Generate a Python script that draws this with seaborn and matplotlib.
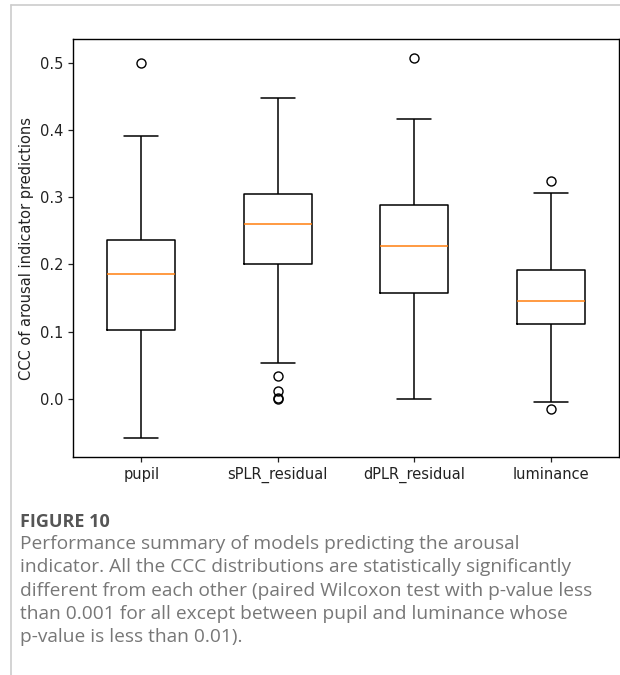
import numpy as np
import pandas as pd
import matplotlib
matplotlib.use("Agg")
import matplotlib.pyplot as plt
import seaborn as sns

# ---- data ----
categories = ["pupil", "sPLR_residual", "dPLR_residual", "luminance"]
whisker_low = [-0.058, 0.053, 0.000, -0.004]
q1 = [0.103, 0.201, 0.158, 0.111]
medians = [0.186, 0.260, 0.228, 0.145]
q3 = [0.236, 0.305, 0.289, 0.192]
whisker_high = [0.391, 0.448, 0.417, 0.306]
outliers_low = [[], [0.034, 0.012, 0.001, 0.0], [], [-0.015]]
outliers_high = [[0.500], [], [0.507], [0.324]]
y_ticks = [0.0, 0.1, 0.2, 0.3, 0.4, 0.5]
y_label = "CCC of arousal indicator predictions"
fig_title = "FIGURE 10"
caption = ("Performance summary of models predicting the arousal\n"
           "indicator. All the CCC distributions are statistically significantly\n"
           "different from each other (paired Wilcoxon test with p-value less\n"
           "than 0.001 for all except between pupil and luminance whose\n"
           "p-value is less than 0.01).")


def sample_for(i):
    """Sorted values whose box-plot statistics equal the ones read above."""
    lows = sorted(outliers_low[i]) + [whisker_low[i]]
    highs = [whisker_high[i]] + sorted(outliers_high[i])
    m = max(len(lows), len(highs))
    vals = list(lows)
    vals += [q1[i]] * (m - len(lows) + 1)
    vals += [medians[i]] * m
    vals += [q3[i]] * (m + (m - len(highs)))
    vals += highs
    return vals


rows = []
for i, c in enumerate(categories):
    for v in sample_for(i):
        rows.append({"model": c, "ccc": v})
df = pd.DataFrame(rows)

sns.set_theme(style="ticks")
plt.rcParams["font.family"] = ["DejaVu Sans"]
plt.rcParams["axes.edgecolor"] = "black"
plt.rcParams["axes.linewidth"] = 1.0

fig = plt.figure(figsize=(6.2, 6.75), dpi=100)
ax = fig.add_axes([73 / 620, (675 - 457) / 675, 546 / 620, 418 / 675])

sns.boxplot(data=df, x="model", y="ccc", order=categories, ax=ax,
            width=0.5, fill=False, color="black", linecolor="black",
            linewidth=1.1, whis=1.5,
            medianprops={"color": "#ff7f0e", "linewidth": 1.1},
            flierprops={"marker": "o", "markerfacecolor": "none",
                        "markeredgecolor": "black", "markersize": 6.5,
                        "markeredgewidth": 1.0})

ax.set_xlim(-0.5, 3.5)
ax.set_yticks(y_ticks)
ax.set_yticklabels([f"{t:.1f}" for t in y_ticks])
ax.set_xlabel("")
ax.set_ylabel(y_label, fontsize=10.5, color="#222222")
ax.tick_params(axis="both", labelsize=10.5, colors="#222222", length=3.5,
               width=0.9, direction="out")
for s in ax.spines.values():
    s.set_visible(True)
    s.set_color("black")

# page frame lines
fig.add_artist(plt.Line2D([11 / 620, 11 / 620], [0, 1 - 5 / 675],
                          transform=fig.transFigure, color="#cccccc", lw=1.2))
fig.add_artist(plt.Line2D([11 / 620, 1], [1 - 5 / 675, 1 - 5 / 675],
                          transform=fig.transFigure, color="#cccccc", lw=1.2))

fig.text(20 / 620, 1 - 522 / 675, fig_title, fontsize=13, fontweight="bold",
         color="#555555", family=["Open Sans", "DejaVu Sans"], va="center")
fig.text(20 / 620, 1 - 535 / 675, caption, fontsize=13.8,
         color="#777777", family=["Open Sans", "DejaVu Sans"], va="top",
         linespacing=1.38)

fig.savefig("out.png", dpi=100, facecolor="white")
